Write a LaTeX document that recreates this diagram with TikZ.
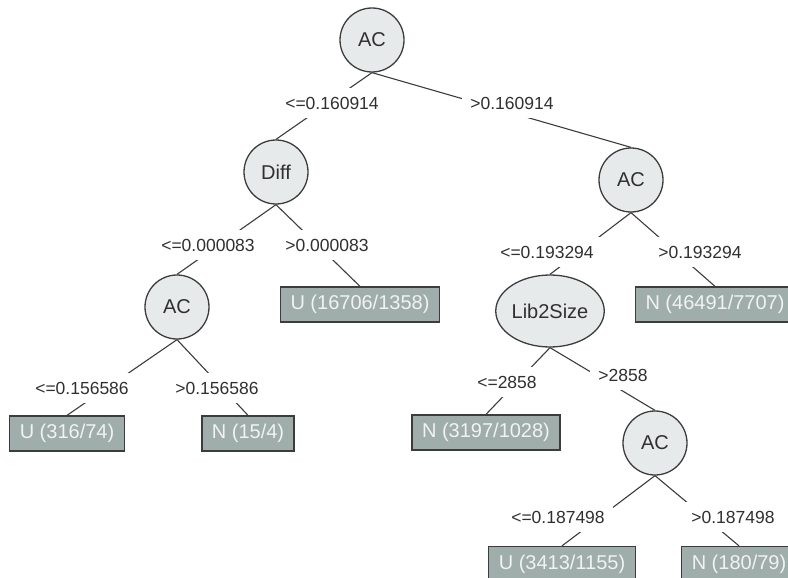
\documentclass[tikz,border=0pt]{standalone}
\usepackage{fontspec}
\setmainfont{Liberation Sans}
\usetikzlibrary{shapes.geometric}
\definecolor{nodefill}{HTML}{E6EAEA}
\definecolor{leaffill}{HTML}{9FADAB}
\definecolor{linegray}{HTML}{3C3C3C}
\definecolor{textgray}{HTML}{303030}
\tikzset{
	attr/.style={circle, draw=linegray, line width=1.3pt, fill=nodefill, minimum size=64pt, inner sep=0pt, text=textgray, font=\fontsize{20}{20}\selectfont},
	attrwide/.style={attr, ellipse, minimum width=96pt, minimum height=72pt},
	leaf/.style={rectangle, draw=linegray, line width=1.3pt, fill=leaffill, text=white!95!black, minimum height=35pt, inner xsep=10pt, inner ysep=0pt, font=\fontsize{20}{20}\selectfont},
	cond/.style={fill=white, text=textgray, inner xsep=8pt, inner ysep=0pt, minimum height=30pt, font=\fontsize{17.5}{17.5}\selectfont},
	branch/.style={draw=linegray, line width=1.1pt}
}

\begin{document}
\begin{tikzpicture}[x=1pt, y=-1pt]
			%%%%% START %%%%%
			\useasboundingbox (0, 0) rectangle (788, 578);
			
			\node[attr] (ac0) at (372, 40) {AC};
			\node[attr] (diff) at (276, 172) {Diff};
			\node[attr] (ac1) at (631, 180) {AC};
			\node[attr] (ac2) at (177, 307) {AC};
			\node[attrwide] (lib) at (550, 311) {Lib2Size};
			\node[attr] (ac3) at (655, 443) {AC};
			
			\node[leaf] (u16706) at (360, 304.5) {U (16706/1358)};
			\node[leaf] (u316) at (67, 433.5) {U (316/74)};
			\node[leaf] (n15) at (248, 433.5) {N (15/4)};
			\node[leaf] (n46491) at (715, 304.5) {N (46491/7707)};
			\node[leaf] (n3197) at (486, 432.5) {N (3197/1028)};
			\node[leaf] (u3413) at (562, 564) {U (3413/1155)};
			\node[leaf] (n180) at (739, 564) {N (180/79)};
			
			\draw[branch] (ac0.south) -- (diff.north);
			\draw[branch] (ac0.south) -- (ac1.north);
			\draw[branch] (diff.south) -- (ac2.north);
			\draw[branch] (diff.south) -- (u16706.north);
			\draw[branch] (ac2.south) -- (u316.north);
			\draw[branch] (ac2.south) -- (n15.north);
			\draw[branch] (ac1.south) -- (lib.north);
			\draw[branch] (ac1.south) -- (n46491.north);
			\draw[branch] (lib.south) -- (n3197.north);
			\draw[branch] (lib.south) -- (ac3.north);
			\draw[branch] (ac3.south) -- (u3413.north);
			\draw[branch] (ac3.south) -- (n180.north);
			
			\node[cond] (le0) at (332, 103) {<=0.160914};
			\node[cond] (gt0) at (512, 103) {>0.160914};
			\node[cond] (le1) at (208, 245) {<=0.000083};
			\node[cond] (gt1) at (327, 245) {>0.000083};
			\node[cond] (le2) at (82, 388) {<=0.156586};
			\node[cond] (gt2) at (217, 388) {>0.156586};
			\node[cond] (le3) at (547, 252) {<=0.193294};
			\node[cond] (gt3) at (700, 252) {>0.193294};
			\node[cond] (le4) at (507, 382) {<=2858};
			\node[cond] (gt4) at (623, 375) {>2858};
			\node[cond] (le5) at (558, 517) {<=0.187498};
			\node[cond] (gt5) at (733, 517) {>0.187498};
			
			%%%%% END %%%%%
\end{tikzpicture}
\end{document}
